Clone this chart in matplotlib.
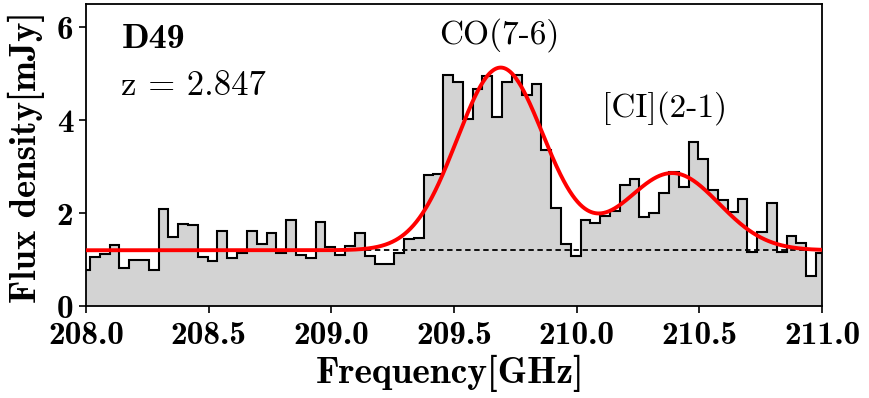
import numpy as np
import matplotlib
matplotlib.use("Agg")
import matplotlib.pyplot as plt

plt.rcParams['mathtext.fontset'] = 'cm'
plt.rcParams['axes.unicode_minus'] = False

# ---- data ----
chan_start = 207.976      # GHz, lower edge of first channel
chan_width = 0.04         # GHz
flux = [0.77, 1.05, 1.12, 1.31, 0.81, 1.00, 0.99, 0.77, 2.09, 1.49,
        1.76, 1.75, 1.05, 0.97, 1.61, 1.04, 1.15, 1.62, 1.33, 1.58,
        1.15, 1.86, 1.10, 1.04, 1.81, 1.26, 1.10, 1.30, 1.58, 1.08,
        0.90, 0.90, 1.15, 1.45, 1.47, 2.82, 2.84, 4.97, 4.82, 4.02,
        4.67, 4.96, 4.06, 4.82, 4.97, 4.55, 4.77, 3.35, 2.11, 1.33,
        1.08, 1.85, 1.78, 1.94, 2.04, 2.60, 2.73, 1.91, 2.01, 2.44,
        2.88, 2.57, 3.53, 3.16, 2.49, 2.28, 2.03, 2.30, 1.17, 1.60,
        2.21, 1.17, 1.51, 1.35, 0.65, 1.15]

continuum = 1.2
line_names = ["CO(7-6)", "[CI](2-1)"]
line_centers = [209.69, 210.39]
line_amps = [3.93, 1.66]
line_sigmas = [0.178, 0.19]

source_name = "D49"
redshift_label = "z = 2.847"
xticks = [208.0, 208.5, 209.0, 209.5, 210.0, 210.5, 211.0]
yticks = [0, 2, 4, 6]

# ---- figure ----
fig = plt.figure(figsize=(8.69, 3.98), dpi=100)
ax = fig.add_axes([86/869, 92/398, 736/869, 302/398])

edges = chan_start + chan_width*np.arange(len(flux)+1)
ax.stairs(flux, edges, fill=True, facecolor='lightgray', edgecolor='none', zorder=1)
ax.stairs(flux, edges, color='black', lw=1.5, baseline=None, zorder=2)

ax.axhline(continuum, color='black', lw=1.3, ls=(0, (3.0, 2.0)), zorder=3)

xm = np.linspace(208, 211, 1500)
model = np.full_like(xm, continuum)
for c, a, s in zip(line_centers, line_amps, line_sigmas):
    model += a*np.exp(-(xm-c)**2/(2*s**2))
ax.plot(xm, model, color='red', lw=2.8, zorder=4)

ax.set_xlim(208, 211)
ax.set_ylim(0, 6.5)
ax.set_xticks(xticks)
ax.set_yticks(yticks)
ax.set_xticklabels([f"{t:.1f}" for t in xticks], fontfamily='cmb10', fontsize=24)
ax.set_yticklabels([f"{t}" for t in yticks], fontfamily='cmb10', fontsize=24)
ax.tick_params(axis='x', direction='out', length=5, width=1.2, pad=6)
ax.tick_params(axis='y', direction='out', length=5, width=1.2, pad=4)
for sp in ax.spines.values():
    sp.set_linewidth(1.3)

# axis labels placed to match reference pixel positions
fig.text(450/869, 1 - 383/398, "Frequency[GHz]", fontfamily='cmb10', fontsize=27,
         ha='center', va='baseline')
fig.text(26/869, 1 - 157.5/398, "Flux density[mJy]", fontfamily='cmb10', fontsize=26.5,
         ha='center', va='center', rotation=90)

ax.text(0.049, 0.853, source_name, transform=ax.transAxes, fontfamily='cmb10',
        fontsize=26, va='baseline', ha='left')
ax.text(0.048, 0.699, redshift_label, transform=ax.transAxes, fontfamily='cmr10',
        fontsize=25, va='baseline', ha='left')
ax.text(209.683, 6.5*0.868, line_names[0], fontfamily='cmr10', fontsize=24,
        va='baseline', ha='center')
ax.text(210.358, 6.5*0.627, line_names[1], fontfamily='cmr10', fontsize=24,
        va='baseline', ha='center')

fig.savefig("out.png", dpi=100)
